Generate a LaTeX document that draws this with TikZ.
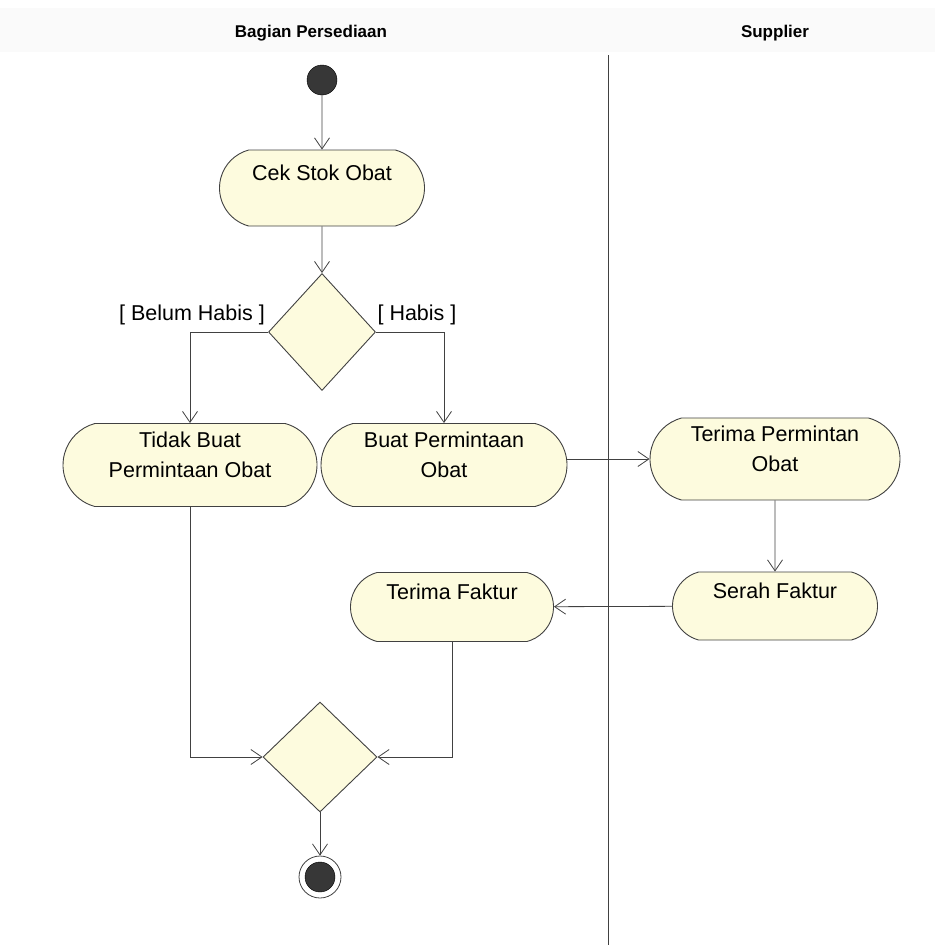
\documentclass[tikz,border=0pt]{standalone}
\usepackage{fontspec}
\setmainfont{Liberation Sans}
\usepackage{tikz}
\usetikzlibrary{arrows.meta}
\usetikzlibrary{shapes.misc}
\usetikzlibrary{shapes.geometric}
\definecolor{actfill}{RGB}{253,251,222}
\definecolor{linegray}{RGB}{65,65,65}
\definecolor{dotgray}{RGB}{55,55,55}

\begin{document}
\begin{tikzpicture}[x=1pt,y=-1pt,
        act/.style={rounded rectangle, rounded rectangle arc length=150, draw=linegray, fill=actfill,
            line width=0.9pt, align=center, inner sep=0pt, font=\fontsize{21.5}{30}\selectfont},
        choice/.style={diamond, draw=linegray, fill=actfill, line width=0.9pt, inner sep=0pt},
        flow/.style={draw=linegray, line width=0.8pt, -{Straight Barb[length=11pt,width=15pt]}},
        guard/.style={anchor=base, font=\fontsize{21.5}{26}\selectfont},
        lane/.style={anchor=base, font=\bfseries\fontsize{17}{20}\selectfont}]

        % frame
        \useasboundingbox (0,0) rectangle (935,951);
        \fill[gray!4] (0,8) rectangle (935,52);

        % lanes
        \node[lane] (bagian) at (311,37) {Bagian Persediaan};
        \node[lane] (supplier) at (775,37) {Supplier};
        \draw[linegray, line width=0.8pt] (608,55) -- (608,945);

        % start
        \node[circle, fill=dotgray, draw=black, minimum size=30pt, inner sep=0pt] (start) at (322,80) {};

        % activities
        \node[act, minimum width=205pt, minimum height=76pt] (cek) at (322,188) {Cek Stok Obat\\\mbox{}};
        \node[choice, minimum width=107pt, minimum height=117pt] (dec) at (322,332) {};
        \node[act, minimum width=254pt, minimum height=83pt] (tidak) at (190,465) {Tidak Buat\\Permintaan Obat\\[-9pt]\mbox{}};
        \node[act, minimum width=246pt, minimum height=83pt] (buat) at (444,465) {Buat Permintaan\\Obat\\[-9pt]\mbox{}};
        \node[act, minimum width=250pt, minimum height=82pt] (tpo) at (775,459) {Terima Permintan\\Obat\\[-9pt]\mbox{}};
        \node[act, minimum width=205pt, minimum height=68pt] (serah) at (775,606) {Serah Faktur\\\mbox{}};
        \node[act, minimum width=203pt, minimum height=69pt] (tfak) at (452,607) {Terima Faktur\\\mbox{}};
        \node[choice, minimum width=114pt, minimum height=110pt] (merge) at (320,757) {};

        % end
        \node[circle, draw=linegray, fill=white, line width=0.8pt, minimum size=42pt, inner sep=0pt] (stop) at (320,877) {};
        \filldraw[fill=dotgray, draw=black] (stop.center) circle (15pt);

        % guards
        \node[guard] (belum) at (192,320) {[ Belum Habis ]};
        \node[guard] (habis) at (417,320) {[ Habis ]};

        % flows
        \draw[flow] (start) -- (cek);
        \draw[flow] (cek) -- (dec);
        \draw[flow] (dec.west) -| (tidak.north);
        \draw[flow] (dec.east) -| (buat.north);
        \draw[flow] (buat.east |- tpo.west) -- (tpo.west);
        \draw[flow] (tpo) -- (serah);
        \draw[flow] (serah) -- (tfak);
        \draw[flow] (tidak.south) |- (merge.west);
        \draw[flow] (tfak.south) |- (merge.east);
        \draw[flow] (merge) -- (stop);

    \end{tikzpicture}
\end{document}
